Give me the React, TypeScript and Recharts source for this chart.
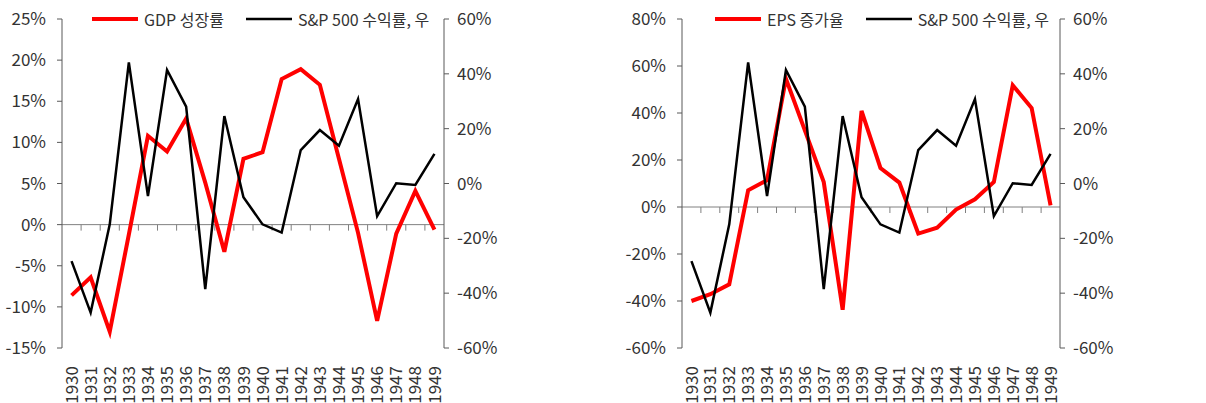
import React from "react";
import {
  LineChart,
  Line,
  XAxis,
  YAxis,
  Legend,
  ReferenceLine,
} from "recharts";

const years = [
  1930, 1931, 1932, 1933, 1934, 1935, 1936, 1937, 1938, 1939, 1940, 1941,
  1942, 1943, 1944, 1945, 1946, 1947, 1948, 1949,
];

// 실질 GDP 성장률 (%)
const gdpGrowth = [
  -8.6, -6.4, -13.0, -1.2, 10.8, 8.9, 12.9, 5.1, -3.3, 8.0, 8.8, 17.7, 18.9,
  17.0, 8.0, -1.0, -11.7, -1.1, 4.1, -0.6,
];

// EPS 증가율 (%)
const epsGrowth = [
  -40.0, -37.1, -32.9, 7.1, 11.4, 54.6, 32.6, 10.6, -43.7, 40.9, 16.6, 10.4,
  -11.3, -8.8, -1.1, 3.3, 10.6, 51.8, 42.1, 0.7,
];

// S&P 500 수익률 (%), 우축
const sp500Return = [
  -28.3, -47.1, -14.9, 44.2, -4.6, 41.4, 28.0, -38.5, 24.6, -5.0, -14.9,
  -17.9, 12.2, 19.5, 13.8, 30.8, -11.9, 0.1, -0.5, 10.8,
];

const gdpTicks = [-15, -10, -5, 0, 5, 10, 15, 20, 25];
const epsTicks = [-60, -40, -20, 0, 20, 40, 60, 80];
const spTicks = [-60, -40, -20, 0, 20, 40, 60];

const gdpData = years.map((year, i) => ({
  year,
  main: gdpGrowth[i],
  sp: sp500Return[i],
}));

const epsData = years.map((year, i) => ({
  year,
  main: epsGrowth[i],
  sp: sp500Return[i],
}));

const FONT = "'Noto Sans CJK KR', 'Noto Sans', sans-serif";
const TEXT = "#333333";
const AXIS = "#595959";
const HEIGHT = 403;
const TOP = 19;
const X_AXIS_H = 55;

const pct = (v: number) => `${v}%`;

const YearTick = (props: any) => {
  const { x, y, payload } = props;
  const ty = y + 10;
  return (
    <text
      x={x}
      y={ty}
      dy="0.36em"
      transform={`rotate(-90, ${x}, ${ty})`}
      textAnchor="end"
      fill={TEXT}
      fontSize={17}
      fontFamily={FONT}
    >
      {payload.value}
    </text>
  );
};

// zero line with short tick marks at every year boundary
const ZeroAxis = (props: any) => {
  const { x1, x2, y1 } = props;
  const band = (x2 - x1) / years.length;
  return (
    <g>
      <line x1={x1} x2={x2} y1={y1} y2={y1} stroke="#808080" strokeWidth={1} />
      {years.slice(1).map((yr, i) => (
        <line
          key={yr}
          x1={x1 + band * (i + 1)}
          x2={x1 + band * (i + 1)}
          y1={y1}
          y2={y1 + 6}
          stroke="#808080"
          strokeWidth={1}
        />
      ))}
    </g>
  );
};

const makeLegend = (mainLabel: string) => () => (
  <div
    style={{
      display: "flex",
      alignItems: "center",
      fontFamily: FONT,
      fontSize: 16,
      color: TEXT,
      whiteSpace: "nowrap",
      lineHeight: "22px",
    }}
  >
    <svg width={46} height={10} style={{ marginRight: 6 }}>
      <line x1={0} x2={46} y1={5} y2={5} stroke="#ff0000" strokeWidth={4} />
    </svg>
    <span>{mainLabel}</span>
    <svg width={46} height={10} style={{ marginLeft: 22, marginRight: 6 }}>
      <line x1={0} x2={46} y1={5} y2={5} stroke="#000000" strokeWidth={2.5} />
    </svg>
    <span>S&amp;P 500 수익률, 우</span>
  </div>
);

type PanelProps = {
  data: { year: number; main: number; sp: number }[];
  width: number;
  leftWidth: number;
  rightMargin: number;
  mainTicks: number[];
  mainLabel: string;
  legendLeft: number;
};

const Panel = ({
  data,
  width,
  leftWidth,
  rightMargin,
  mainTicks,
  mainLabel,
  legendLeft,
}: PanelProps) => (
  <LineChart
    width={width}
    height={HEIGHT}
    data={data}
    margin={{ top: TOP, right: rightMargin, bottom: 0, left: 0 }}
  >
    <XAxis
      dataKey="year"
      type="number"
      domain={[1929.5, 1949.5]}
      ticks={years}
      interval={0}
      height={X_AXIS_H}
      axisLine={false}
      tickLine={false}
      tick={<YearTick />}
    />
    <YAxis
      yAxisId="left"
      domain={[mainTicks[0], mainTicks[mainTicks.length - 1]]}
      ticks={mainTicks}
      interval={0}
      width={leftWidth}
      tickFormatter={pct}
      stroke={AXIS}
      tickSize={5}
      tickMargin={11}
      tick={{ fill: TEXT, fontSize: 17, fontFamily: FONT }}
    />
    <YAxis
      yAxisId="right"
      orientation="right"
      domain={[-60, 60]}
      ticks={spTicks}
      interval={0}
      width={60}
      tickFormatter={pct}
      stroke={AXIS}
      tickSize={5}
      tickMargin={8}
      tick={{ fill: TEXT, fontSize: 17, fontFamily: FONT }}
    />
    <ReferenceLine yAxisId="left" y={0} shape={<ZeroAxis />} />
    <Legend
      layout="horizontal"
      verticalAlign="middle"
      align="center"
      wrapperStyle={{ top: 8, left: legendLeft, width: "auto" }}
      content={makeLegend(mainLabel)}
    />
    <Line
      yAxisId="left"
      dataKey="main"
      stroke="#ff0000"
      strokeWidth={4}
      dot={false}
      isAnimationActive={false}
    />
    <Line
      yAxisId="right"
      dataKey="sp"
      stroke="#000000"
      strokeWidth={2.5}
      dot={false}
      isAnimationActive={false}
    />
  </LineChart>
);

export default function App() {
  return (
    <div
      style={{
        position: "absolute",
        left: 0,
        top: 0,
        width: 1206,
        height: HEIGHT,
        background: "#ffffff",
        display: "flex",
        overflow: "hidden",
      }}
    >
      <Panel
        data={gdpData}
        width={600}
        leftWidth={62}
        rightMargin={96}
        mainTicks={gdpTicks}
        mainLabel="GDP 성장률"
        legendLeft={92}
      />
      <Panel
        data={epsData}
        width={606}
        leftWidth={82}
        rightMargin={86}
        mainTicks={epsTicks}
        mainLabel="EPS 증가율"
        legendLeft={115}
      />
    </div>
  );
}
